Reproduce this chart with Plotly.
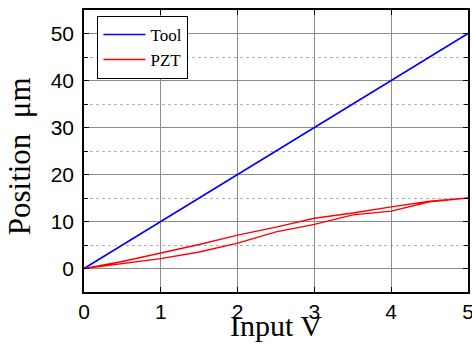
import plotly.graph_objects as go

tool_x = [0, 5]
tool_y = [0, 50]
pzt_x = [0, 0.5, 1, 1.5, 2, 2.5, 3, 3.5, 4, 4.5, 5, 4.5, 4, 3.5, 3, 2.5, 2, 1.5, 1, 0.5, 0]
pzt_y = [0, 1.0, 2.1, 3.5, 5.4, 7.8, 9.4, 11.4, 12.2, 14.2, 15,
         14.3, 13.1, 11.8, 10.7, 8.8, 7.1, 5.1, 3.3, 1.5, 0]
x_ticks = [0, 1, 2, 3, 4, 5]
y_ticks = [0, 10, 20, 30, 40, 50]

fig = go.Figure()
fig.add_trace(go.Scatter(x=tool_x, y=tool_y, mode="lines", name="Tool",
                         line=dict(color="#0000ff", width=1.6)))
fig.add_trace(go.Scatter(x=pzt_x, y=pzt_y, mode="lines", name="PZT",
                         line=dict(color="#ff0000", width=1.4)))

tickfont = dict(family="Liberation Sans, Arial, sans-serif", size=21, color="black")
fig.update_layout(
    width=472, height=349,
    margin=dict(l=84, r=4, t=10, b=57),
    paper_bgcolor="white", plot_bgcolor="white",
    showlegend=True,
    legend=dict(x=0.035, y=0.979, xanchor="left", yanchor="top",
                bgcolor="white", bordercolor="black", borderwidth=1,
                font=dict(family="Liberation Serif, Times New Roman, serif", size=17, color="black"),
                tracegroupgap=0, itemwidth=42),
    xaxis=dict(range=[0, 5], tickvals=x_ticks, ticktext=[str(v) for v in x_ticks],
               ticks="inside", ticklen=5, tickcolor="black",
               showline=True, linecolor="black", linewidth=1.5, mirror="ticks",
               showgrid=True, gridcolor="#8c8c8c", gridwidth=1,
               zeroline=False, tickfont=tickfont, ticklabelstandoff=0,
               ticklabeloverflow="allow", automargin=False),
    yaxis=dict(range=[-5, 55], tickvals=y_ticks, ticktext=[str(v) for v in y_ticks],
               ticks="inside", ticklen=5, tickcolor="black",
               showline=True, linecolor="black", linewidth=1.5, mirror="ticks",
               showgrid=True, gridcolor="#8c8c8c", gridwidth=1,
               minor=dict(dtick=5, tick0=5, showgrid=True, gridcolor="#b4b4b4",
                          griddash="dot", gridwidth=1, ticks="inside", ticklen=4,
                          tickcolor="black"),
               zeroline=False, tickfont=tickfont, ticklabelstandoff=4,
               automargin=False),
    annotations=[
        dict(text="Input V", xref="paper", yref="paper", x=0.5, y=-0.118,
             xanchor="center", yanchor="middle", showarrow=False,
             font=dict(family="Liberation Serif, Times New Roman, serif", size=30, color="black")),
        dict(text="Position  μm", xref="paper", yref="paper", x=-0.168, y=0.483,
             xanchor="center", yanchor="middle", showarrow=False, textangle=-90,
             font=dict(family="Liberation Serif, Times New Roman, serif", size=31, color="black")),
    ],
)
fig.write_html("out.html")
